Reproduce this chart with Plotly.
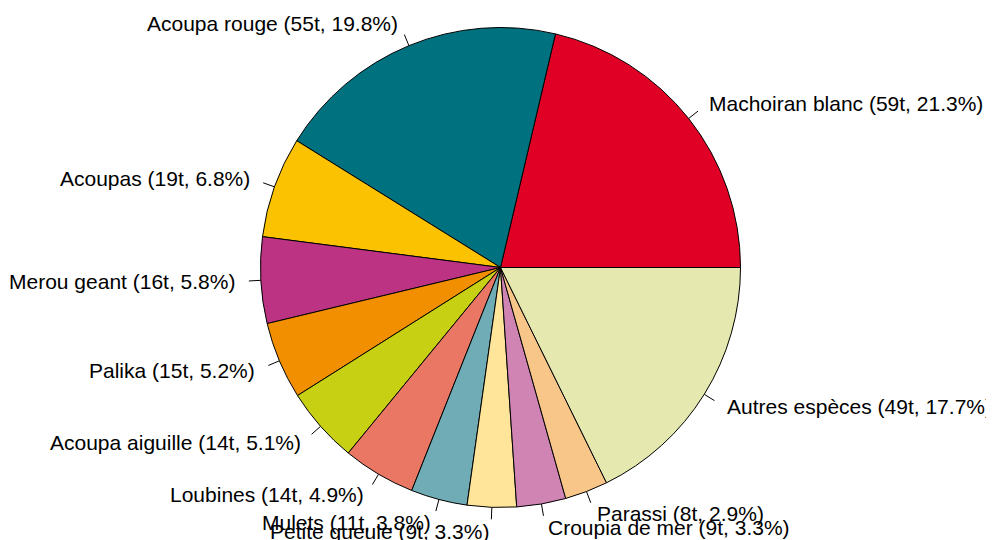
import numpy as np
import plotly.graph_objects as go

labels = ["Machoiran blanc", "Acoupa rouge", "Acoupas", "Merou geant", "Palika",
          "Acoupa aiguille", "Loubines", "Mulets", "Petite gueule", "Croupia de mer",
          "Parassi", "Autres espèces"]
tonnes = [59, 55, 19, 16, 15, 14, 14, 11, 9, 9, 8, 49]
percent = [21.3, 19.8, 6.8, 5.8, 5.2, 5.1, 4.9, 3.8, 3.3, 3.3, 2.9, 17.7]
colors = ["#E00026", "#00717F", "#FAC200", "#BC3384", "#F18F00", "#C8D013",
          "#EA7763", "#6FACB5", "#FFE59A", "#CF84B3", "#F9C689", "#E6E9AF"]

W, H = 994, 540
OFF = 8  # page body margin
cx, cy, R = 500.5 - OFF, 267.5 - OFF, 240

vals = np.array(percent, dtype=float)
first_deg = vals[0] / vals.sum() * 360

fig = go.Figure()
fig.add_trace(go.Pie(
    values=percent, labels=labels, sort=False, direction="counterclockwise",
    rotation=90 - first_deg, textinfo="none", showlegend=False,
    marker=dict(colors=colors, line=dict(color="black", width=1)),
    domain=dict(x=[(cx - R) / W, (cx + R) / W], y=[(H - cy - R) / H, (H - cy + R) / H]),
))

cum = np.concatenate([[0], np.cumsum(vals)])
mids = (cum[:-1] + vals / 2) / vals.sum() * 2 * np.pi

annotations = []
for lab, t, p, a in zip(labels, tonnes, percent, mids):
    c, s = np.cos(a), np.sin(a)
    fig.add_trace(go.Scatter(
        x=[cx + R * c, cx + 1.05 * R * c], y=[cy - R * s, cy - 1.05 * R * s],
        mode="lines", line=dict(color="black", width=1), hoverinfo="skip",
        showlegend=False, xaxis="x", yaxis="y"))
    annotations.append(dict(
        x=cx + 1.1 * R * c, y=cy - 1.1 * R * s, xref="x", yref="y",
        text=f"{lab} ({t}t, {p}%)", showarrow=False,
        xanchor="left" if c >= 0 else "right", yanchor="middle",
        font=dict(family="Liberation Sans, Arial", size=21, color="black")))

fig.update_layout(
    width=W, height=H, margin=dict(l=0, r=0, t=0, b=0),
    paper_bgcolor="white", plot_bgcolor="rgba(0,0,0,0)",
    xaxis=dict(range=[0, W], visible=False, fixedrange=True),
    yaxis=dict(range=[H, 0], visible=False, fixedrange=True),
    annotations=annotations,
)
fig.write_html("out.html")
